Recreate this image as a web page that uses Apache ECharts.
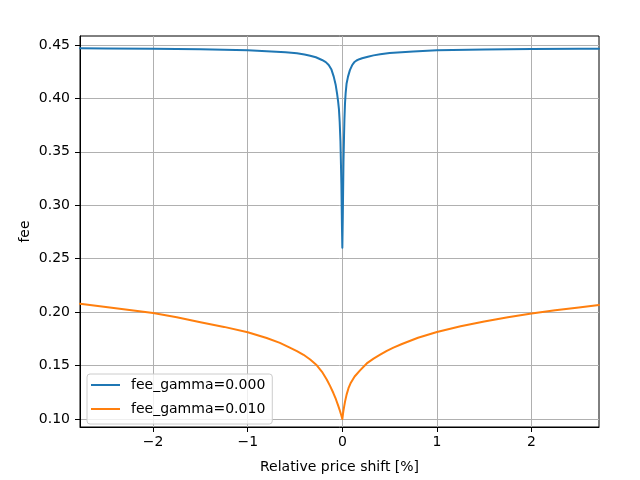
<!DOCTYPE html>
<html><head><meta charset="utf-8">
<script src="https://cdn.jsdelivr.net/npm/echarts@6/dist/echarts.min.js"></script>
<style>html,body{margin:0;padding:0;background:#fff}#c{width:640px;height:480px}</style>
</head><body><div id="c"></div>
<script>
const seriesNames = ['fee_gamma=0.000', 'fee_gamma=0.010'];
const blueX = [-2.773, -2.5, -2.0, -1.5, -1.0, -0.75, -0.6, -0.48, -0.4, -0.34, -0.28, -0.215, -0.175, -0.144, -0.115, -0.091, -0.07, -0.056, -0.045, -0.036, -0.028, -0.02, -0.01, -0.004, 0, 0.005, 0.012, 0.018, 0.022, 0.028, 0.035, 0.045, 0.06, 0.08, 0.103, 0.125, 0.15, 0.18, 0.209, 0.27, 0.33, 0.4, 0.5, 0.75, 1.0, 1.5, 2.0, 2.5, 2.713];
const blueY = [0.4469, 0.4468, 0.4466, 0.4460, 0.4450, 0.4440, 0.4432, 0.4422, 0.4412, 0.4400, 0.4385, 0.4360, 0.4340, 0.4313, 0.4270, 0.4204, 0.4125, 0.4048, 0.3975, 0.3900, 0.3780, 0.3600, 0.3200, 0.2800, 0.2602, 0.2900, 0.3400, 0.3650, 0.3800, 0.3950, 0.4050, 0.4140, 0.4204, 0.4265, 0.4310, 0.4338, 0.4355, 0.4367, 0.4376, 0.4390, 0.4403, 0.4413, 0.4425, 0.4440, 0.4450, 0.4458, 0.4462, 0.4465, 0.4466];
const orangeX = [-2.773, -2.5, -2.25, -2.0, -1.75, -1.5, -1.25, -1.0, -0.8, -0.66, -0.55, -0.48, -0.41, -0.34, -0.27, -0.215, -0.165, -0.13, -0.095, -0.068, -0.042, -0.025, -0.012, 0, 0.006, 0.012, 0.02, 0.029, 0.045, 0.065, 0.09, 0.13, 0.187, 0.258, 0.33, 0.40, 0.47, 0.54, 0.63, 0.8, 1.0, 1.25, 1.5, 1.75, 2.0, 2.25, 2.5, 2.713];
const orangeY = [0.2078, 0.2048, 0.2020, 0.1991, 0.1952, 0.1905, 0.1862, 0.1812, 0.1758, 0.1712, 0.1666, 0.1636, 0.1601, 0.1557, 0.1502, 0.1442, 0.1370, 0.1310, 0.1243, 0.1185, 0.1120, 0.1075, 0.1037, 0.1000, 0.1040, 0.1080, 0.1120, 0.1165, 0.1228, 0.1288, 0.1340, 0.1398, 0.1455, 0.1520, 0.1565, 0.1602, 0.1638, 0.1668, 0.1702, 0.1760, 0.1814, 0.1868, 0.1913, 0.1953, 0.1988, 0.2018, 0.2043, 0.2066];
const xTicks = [-2, -1, 0, 1, 2];
const yTicks = [0.10, 0.15, 0.20, 0.25, 0.30, 0.35, 0.40, 0.45];

const zip = (xs, ys) => xs.map((x, i) => [x, ys[i]]);
const font = 'DejaVu Sans';
const chart = echarts.init(document.getElementById('c'), null, {renderer: 'canvas'});
chart.setOption({
  animation: false,
  backgroundColor: '#fff',
  grid: {left: 80, right: 41, top: 36, bottom: 53, show: true, borderColor: '#000', borderWidth: 1, backgroundColor: 'transparent'},
  xAxis: {
    type: 'value', min: -2.773, max: 2.713,
    name: 'Relative price shift [%]', nameLocation: 'middle', nameGap: 33, nameMoveOverlap: false,
    nameTextStyle: {fontFamily: font, fontSize: 14, color: '#000'},
    axisLine: {show: true, onZero: false, lineStyle: {color: '#000', width: 1}},
    axisTick: {show: true, length: 5, lineStyle: {color: '#000', width: 1}, customValues: xTicks},
    axisLabel: {customValues: xTicks, margin: 8, fontFamily: font, fontSize: 14, color: '#000',
      formatter: v => String(v).replace('-', '\u2212')},
    splitLine: {show: true, lineStyle: {color: '#b0b0b0', width: 1}}
  },
  yAxis: {
    type: 'value', min: 0.09252, max: 0.45842,
    name: 'fee', nameLocation: 'middle', nameGap: 48, nameMoveOverlap: false,
    nameTextStyle: {fontFamily: font, fontSize: 14, color: '#000'},
    axisLine: {show: true, onZero: false, lineStyle: {color: '#000', width: 1}},
    axisTick: {show: true, length: 5, lineStyle: {color: '#000', width: 1}, customValues: yTicks},
    axisLabel: {customValues: yTicks, margin: 10, fontFamily: font, fontSize: 14, color: '#000',
      formatter: v => v.toFixed(2)},
    splitLine: {show: true, lineStyle: {color: '#b0b0b0', width: 1}}
  },
  legend: {
    orient: 'vertical', left: 87, top: 374,
    padding: [4, 7, 8, 4], itemGap: 10, itemWidth: 29, itemHeight: 2,
    backgroundColor: 'rgba(255,255,255,0.8)', borderColor: '#cccccc', borderWidth: 1, borderRadius: 3,
    icon: 'rect',
    textStyle: {fontFamily: font, fontSize: 14, color: '#000', padding: [0, 0, 0, 6]},
    data: seriesNames
  },
  series: [
    {name: seriesNames[0], type: 'line', data: zip(blueX, blueY), showSymbol: false, symbol: 'none', smooth: false,
      lineStyle: {color: '#1f77b4', width: 2, join: 'round', cap: 'round'}, itemStyle: {color: '#1f77b4'}, clip: true},
    {name: seriesNames[1], type: 'line', data: zip(orangeX, orangeY), showSymbol: false, symbol: 'none', smooth: false,
      lineStyle: {color: '#ff7f0e', width: 2, join: 'round', cap: 'round'}, itemStyle: {color: '#ff7f0e'}, clip: true}
  ]
});
</script></body></html>
